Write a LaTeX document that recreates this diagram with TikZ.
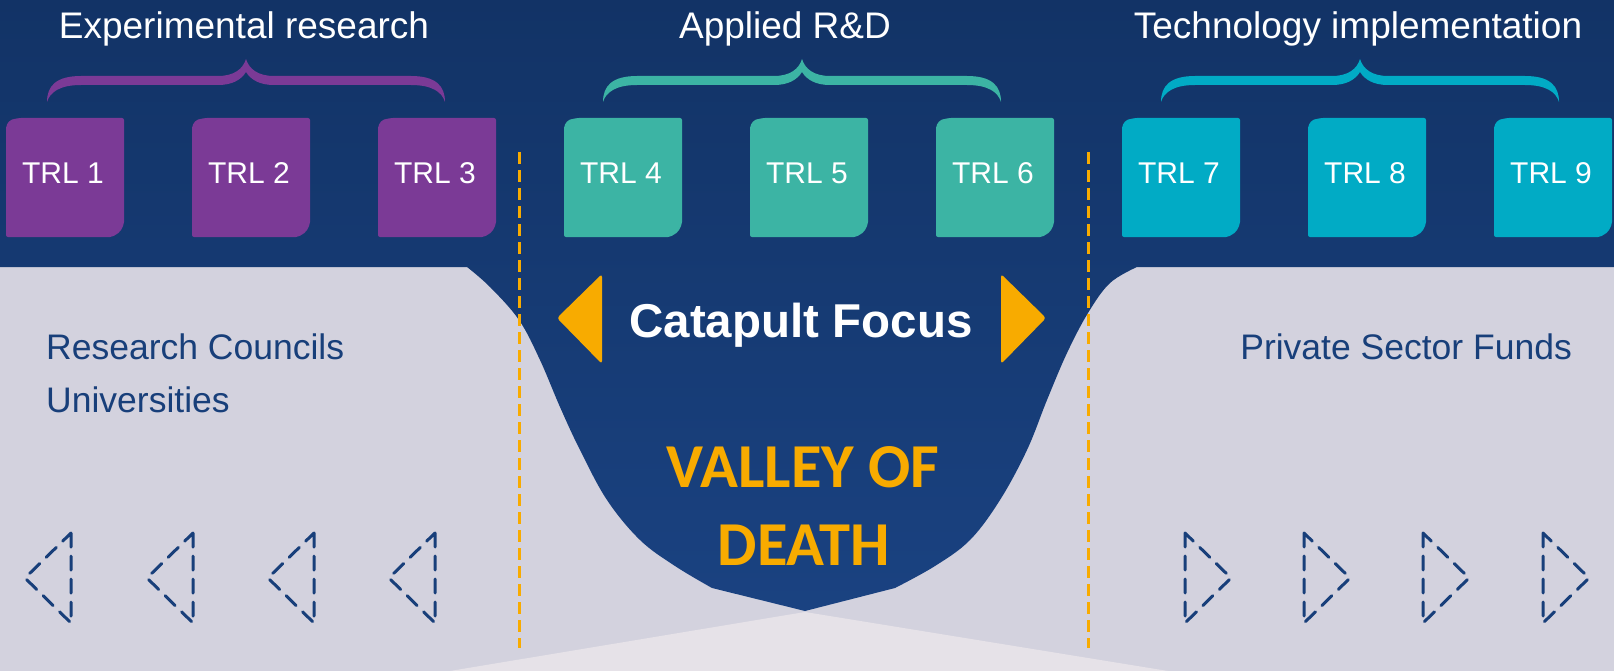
\documentclass[tikz,border=0pt]{standalone}
\usepackage{fontspec}
\setmainfont{Liberation Sans}
\newfontfamily\valleyfont{Carlito}
\definecolor{lowgray}{HTML}{D3D2DE}
\definecolor{floorgray}{HTML}{E6E2E8}
\definecolor{navytop}{HTML}{123366}
\definecolor{navylow}{HTML}{1A4281}
\definecolor{navytext}{HTML}{183F7A}
\definecolor{trlpurple}{HTML}{7B3A96}
\definecolor{trlgreen}{HTML}{3CB4A4}
\definecolor{trlteal}{HTML}{01ABC5}
\definecolor{focusorange}{HTML}{F8AB00}
\newcommand{\trlbrace}[2]{\fill[#2, shift = {(#1,0)}] (-199,102) .. controls (-199,86) and (-190,76) .. (-165,76) -- (-28,76) .. controls (-12,76) and (-3,69) .. (0,59) .. controls (3,69) and (12,76) .. (28,76) -- (165,76) .. controls (190,76) and (199,86) .. (199,102) .. controls (196,92) and (186,85) .. (165,85) -- (28,85) .. controls (14,85) and (5,80) .. (0,72) .. controls (-5,80) and (-14,85) .. (-28,85) -- (-165,85) .. controls (-186,85) and (-196,92) .. (-199,102) -- cycle;}
\begin{document}
\begin{tikzpicture}[x = 1pt, y = -1pt,
  head text/.style = {inner sep = 0, anchor = base, text = white, font = \fontsize{37}{40}\selectfont},
  trl text/.style = {inner sep = 0, anchor = base, text = white, font = \fontsize{30}{34}\selectfont},
  fund text/.style = {inner sep = 0, align = left, text = navytext, font = \fontsize{35.5}{53}\selectfont},
  edge line/.style = {draw = focusorange, line width = 3, dash pattern = on 12 off 6},
  back arrow/.style = {draw = navytext, line width = 3, line cap = round, line join = round, dash pattern = on 14 off 9}]
\useasboundingbox (0,0) rectangle (1614,671);
\fill[lowgray] (0,0) rectangle (1614,671);
\fill[floorgray] (805,612) -- (1168,671) -- (450,671) -- cycle;
\shade[top color = navytop, bottom color = navylow] (0,0) -- (1614,0) -- (1614,267) -- plot[smooth, tension = 0.6] coordinates {(1137,267) (1110,283) (1088,313) (1067,353) (1047,400) (1027,450) (1000,500) (970,540) (935,566) (895,588)} -- (805,611) -- plot[smooth, tension = 0.6] coordinates {(712,588) (675,566) (640,540) (607,500) (580,450) (560,407) (540,360) (519,320) (490,287) (467,267)} -- (0,267) -- cycle;
\node[head text] (experimental) at (244,39) {Experimental research};
\node[head text] (applied) at (785,39) {Applied R\&D};
\node[head text] (implementation) at (1358,39) {Technology implementation};
\trlbrace{246}{trlpurple}
\trlbrace{802}{trlgreen}
\trlbrace{1360}{trlteal}
\foreach \n/\c in {1/trlpurple, 2/trlpurple, 3/trlpurple, 4/trlgreen, 5/trlgreen, 6/trlgreen, 7/trlteal, 8/trlteal, 9/trlteal}
{
\pgfmathsetmacro\x{6+186*(\n-1)}
\fill[\c, rounded corners = 2] (\x,126) -- (\x+4,120) -- (\x+13,118) -- (\x+118,118) -- (\x+118,224) -- (\x+114,232) -- (\x+106,237) -- (\x,237) -- cycle;
\node[trl text] (trl\n) at (\x+57,184) {TRL~\n};
}
\draw[edge line] (519,152) -- (519,648);
\draw[edge line] (1088,152) -- (1088,648);
\fill[focusorange, rounded corners = 3] (557,318) -- (602,274) -- (602,364) -- cycle;
\fill[focusorange, rounded corners = 3] (1046,318) -- (1001,274) -- (1001,364) -- cycle;
\node[inner sep = 0, anchor = base, text = white, font = \bfseries\fontsize{47.5}{50}\selectfont] (focus) at (801,337) {Catapult Focus};
\node[inner sep = 0, anchor = base, text = focusorange, font = \valleyfont\bfseries\fontsize{62.5}{78}\selectfont] (valley) at (803,487) {VALLEY OF};
\node[inner sep = 0, anchor = base, text = focusorange, font = \valleyfont\bfseries\fontsize{62.5}{78}\selectfont] (death) at (804,565) {DEATH};
\node[fund text, anchor = base west] (councils) at (46,412) {Research Councils\\Universities};
\node[inner sep = 0, anchor = base east, text = navytext, font = \fontsize{35.5}{40}\selectfont] (private) at (1572,359) {Private Sector Funds};
\foreach \x in {71,193,314,435} \draw[back arrow] (\x,533) -- (\x,623) -- (\x-46,578) -- cycle;
\foreach \x in {1185,1304,1423,1543} \draw[back arrow] (\x,533) -- (\x,623) -- (\x+46,578) -- cycle;
\end{tikzpicture}
\end{document}
